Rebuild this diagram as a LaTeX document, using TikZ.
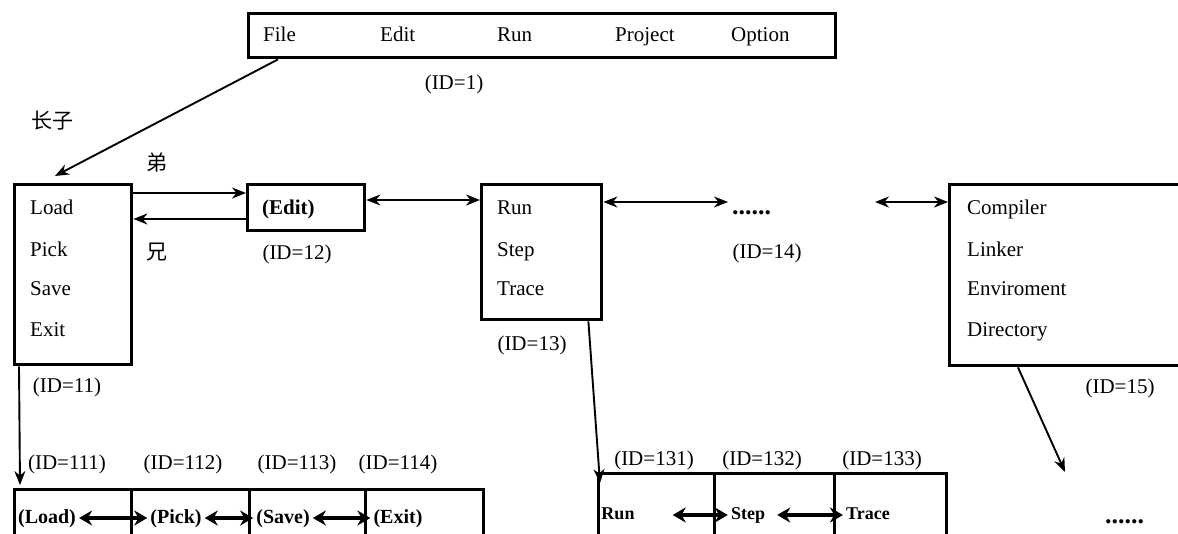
\documentclass[tikz,border=0pt]{standalone}
\usepackage{fontspec}
\setmainfont{Liberation Serif}
\newfontfamily\cjk{Noto Sans CJK SC}
\usetikzlibrary{positioning,arrows.meta}
\tikzset{
  every node/.style={font=\fontsize{21}{24}\selectfont, inner sep=0pt,
    text height=15pt, text depth=5pt},
  menubox/.style={
    rectangle, draw, line width=3.4pt,
    anchor=north west
  },
  entry/.style={anchor=west},
  cell/.style={
    rectangle, draw, line width=3.4pt,
    anchor=north west, minimum height=70pt
  },
  celltext/.style={font=\fontsize{20}{24}\selectfont\bfseries, inner sep=3pt},
  smalltext/.style={font=\fontsize{18}{20}\selectfont\bfseries, inner sep=3pt,
    text height=12pt, text depth=4pt},
  dots/.style={anchor=base west, font=\fontsize{26}{28}\selectfont\bfseries},
  link/.style={
    -{Stealth[length=14pt,width=11pt]},
    line width=1.9pt
  },
  twoway/.style={
    {Stealth[length=14pt,width=11pt]}-{Stealth[length=14pt,width=11pt]},
    line width=1.9pt
  },
  swap/.style={
    {Stealth[length=13pt,width=15pt]}-{Stealth[length=13pt,width=15pt]},
    line width=3.6pt
  },
}

\begin{document}
\begin{tikzpicture}[x=1pt,y=-1pt]
  \useasboundingbox (0,0) rectangle (1178,533);
  \clip (0,0) rectangle (1178,533);
  % main menu
  \node[menubox, minimum width=587pt, minimum height=44pt] (menu) at (247,12) {};
  \node[entry] (mfile) at (263,36) {File};
  \node[entry] (medit) at (380,36) {Edit};
  \node[entry] (mrun) at (497,36) {Run};
  \node[entry] (mproject) at (615,36) {Project};
  \node[entry] (moption) at (731,36) {Option};
  \node (id1) at (454,84) {(ID=1)};
  \node (eldest) at (52,123) {\cjk 长子};
  \node (younger) at (157,165) {\cjk 弟};
  \node (elder) at (157,254) {\cjk 兄};

  % second level
  \node[menubox, minimum width=117pt, minimum height=180pt] (load) at (13,183) {};
  \node[entry] at (30,209) {Load};
  \node[entry] at (30,251) {Pick};
  \node[entry] at (30,290) {Save};
  \node[entry] at (30,331) {Exit};
  \node (id11) at (67,387) {(ID=11)};

  \node[menubox, minimum width=117pt, minimum height=46pt] (edit) at (246,183) {};
  \node[entry, font=\fontsize{21}{24}\selectfont\bfseries] (tedit) at (262,209) {(Edit)};
  \node (id12) at (297,254) {(ID=12)};

  \node[menubox, minimum width=120pt, minimum height=135pt] (run) at (480,183) {};
  \node[entry] at (497,209) {Run};
  \node[entry] at (497,251) {Step};
  \node[entry] at (497,290) {Trace};
  \node (id13) at (532,345) {(ID=13)};

  \coordinate (in14) at (728,202);
  \node[dots] (more14) at (732,214) {......};
  \node (id14) at (767,253) {(ID=14)};

  \coordinate (in15) at (875,202);
  \node[menubox, minimum width=260pt, minimum height=181pt] (comp) at (948,183) {};
  \node[entry] at (967,209) {Compiler};
  \node[entry] at (967,251) {Linker};
  \node[entry] at (967,290) {Enviroment};
  \node[entry] at (967,331) {Directory};
  \node (id15) at (1120,388) {(ID=15)};
  \coordinate (down15) at (1065,472);
  \node[dots] (more16) at (1105,523) {......};

  % third level, File
  \node[cell, minimum width=117pt] (c111) at (13,488) {};
  \node[cell, minimum width=118pt] (c112) at (130,488) {};
  \node[cell, minimum width=116pt] (c113) at (248,488) {};
  \node[cell, minimum width=118pt] (c114) at (364,488) {};
  \node (id111) at (67,464) {(ID=111)};
  \node (id112) at (183,464) {(ID=112)};
  \node (id113) at (297,464) {(ID=113)};
  \node (id114) at (398,464) {(ID=114)};
  \node[celltext] (tload) at (47,518) {(Load)};
  \node[celltext] (tpick) at (176,518) {(Pick)};
  \node[celltext] (tsave) at (283,518) {(Save)};
  \node[celltext] (texit) at (398,518) {(Exit)};

  % third level, Run
  \node[cell, minimum width=116pt] (c131) at (597,472) {};
  \node[cell, minimum width=120pt] (c132) at (713,472) {};
  \node[cell, minimum width=112pt] (c133) at (833,472) {};
  \node (id131) at (654,460) {(ID=131)};
  \node (id132) at (762,460) {(ID=132)};
  \node (id133) at (882,460) {(ID=133)};
  \node[smalltext] (trun) at (618,515) {Run};
  \node[smalltext] (tstep) at (748,515) {Step};
  \node[smalltext] (ttrace) at (868,515) {Trace};

  % connectors
  \draw[link] ([xshift=31pt]menu.south west) -- ([xshift=42pt,yshift=7pt]load.north west);
  \draw[link] ([yshift=-10pt]load.north east) -- ([yshift=-10pt]edit.north west);
  \draw[link] ([yshift=-36pt]edit.north west) -- ([yshift=-36pt]load.north east);
  \draw[twoway] ([yshift=-17pt]edit.north east) -- ([yshift=-17pt]run.north west);
  \draw[twoway] ([yshift=-19pt]run.north east) -- (in14);
  \draw[twoway] (in15) -- ([yshift=-19pt]comp.north west);
  \draw[link] ([xshift=6pt]load.south west) -- ([xshift=7pt,yshift=3pt]c111.north west);
  \draw[link] ([xshift=-15pt]run.south east) -- ([xshift=3pt,yshift=-11pt]c131.north west);
  \draw[link] ([xshift=70pt]comp.south west) -- (down15);
  \draw[swap] (tload) -- (tpick);
  \draw[swap] (tpick) -- (tsave);
  \draw[swap] (tsave) -- (texit);
  \draw[swap, shorten <=35pt] (trun) -- (tstep);
  \draw[swap, shorten <=9pt] (tstep) -- (ttrace);
\end{tikzpicture}
\end{document}
